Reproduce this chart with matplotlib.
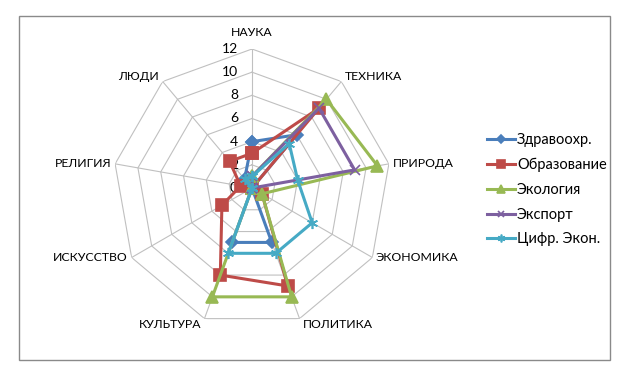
import numpy as np
import matplotlib
matplotlib.use("Agg")
import matplotlib.pyplot as plt
from matplotlib.patches import Rectangle

categories = ['НАУКА', 'ТЕХНИКА', 'ПРИРОДА', 'ЭКОНОМИКА', 'ПОЛИТИКА',
              'КУЛЬТУРА', 'ИСКУССТВО', 'РЕЛИГИЯ', 'ЛЮДИ']
series_names = ['Здравоохр.', 'Образование', 'Экология', 'Экспорт', 'Цифр. Экон.']
zdrav = [4, 6, 0, 0, 5, 5, 0, 0, 1]
obraz = [3, 9, 0, 1, 9, 8, 3, 1, 3]
ekol = [1, 10, 11, 1, 10, 10, 0, 0, 0]
eksport = [1, 9, 9, 0, 0, 0, 0, 0, 0]
cifr = [1, 5, 4, 6, 6, 6, 0, 0, 1]
ticks = [0, 2, 4, 6, 8, 10, 12]

colors = ['#4A7EBB', '#BE4B48', '#98B954', '#7D60A0', '#46AAC5']
markers = ['D', 's', '^', 'x', (6, 2, 0)]
msizes = [6, 8, 9, 7, 8]

plt.rcParams['font.family'] = ['Lato', 'DejaVu Sans']

W, H = 628, 369
fig = plt.figure(figsize=(W / 100, H / 100), dpi=100)
fig.patches.append(Rectangle((19 / W, 1 - 360 / H), (610 - 19) / W, (360 - 16) / H,
                             transform=fig.transFigure, fill=False,
                             edgecolor='#8a8a8a', linewidth=1.0))

cx, cy, R = 252, 188, 139
ax = fig.add_axes([(cx - R) / W, 1 - (cy + R) / H, 2 * R / W, 2 * R / H],
                  projection='polar')
ax.set_theta_zero_location('N')
ax.set_theta_direction(-1)
ax.set_ylim(0, 12)
ax.grid(False)
ax.spines['polar'].set_visible(False)
ax.set_xticks([])
ax.set_yticks([])
ax.patch.set_alpha(0)

n = len(categories)
angles = np.arange(n) * 2 * np.pi / n
closed = np.concatenate([angles, angles[:1]])

for t in ticks[1:]:
    ax.plot(closed, [t] * (n + 1), color='#c0c0c0', lw=0.8, zorder=1)
for a in angles:
    ax.plot([a, a], [0, 12], color='#c0c0c0', lw=0.8, zorder=1)

for t in ticks:
    ax.annotate(str(t), xy=(0, t), xytext=(-14, 0), textcoords='offset pixels',
                ha='right', va='center', fontsize=10)

for a, lab in zip(angles, categories):
    s, c = np.sin(a), np.cos(a)
    ha = 'left' if s > 0.1 else ('right' if s < -0.1 else 'center')
    va = 'bottom' if c > 0.6 else ('top' if c < -0.6 else 'center')
    dx = 3.5 * np.sign(s) if abs(s) > 0.1 else 0
    dy = 11 if abs(s) <= 0.1 else 0
    ax.annotate(lab, xy=(a, 12), xytext=(dx, dy), textcoords='offset pixels',
                ha=ha, va=va, fontsize=8.8, annotation_clip=False)

data = [zdrav, obraz, ekol, eksport, cifr]
handles = []
for vals, name, col, mk, ms in zip(data, series_names, colors, markers, msizes):
    v = list(vals) + [vals[0]]
    h, = ax.plot(closed, v, color=col, lw=2.2, marker=mk, markersize=ms,
                 markerfacecolor=col, markeredgecolor=col, markeredgewidth=1.2,
                 label=name, zorder=3, clip_on=False)
    handles.append(h)

fig.legend(handles=handles, loc='upper left', bbox_to_anchor=(487 / W, 1 - 133 / H),
           frameon=False, fontsize=10.5, handlelength=1.92, handletextpad=0.14,
           labelspacing=0.74, borderaxespad=0, borderpad=0, markerscale=0.7)

fig.savefig('out.png', dpi=100, facecolor='white')
